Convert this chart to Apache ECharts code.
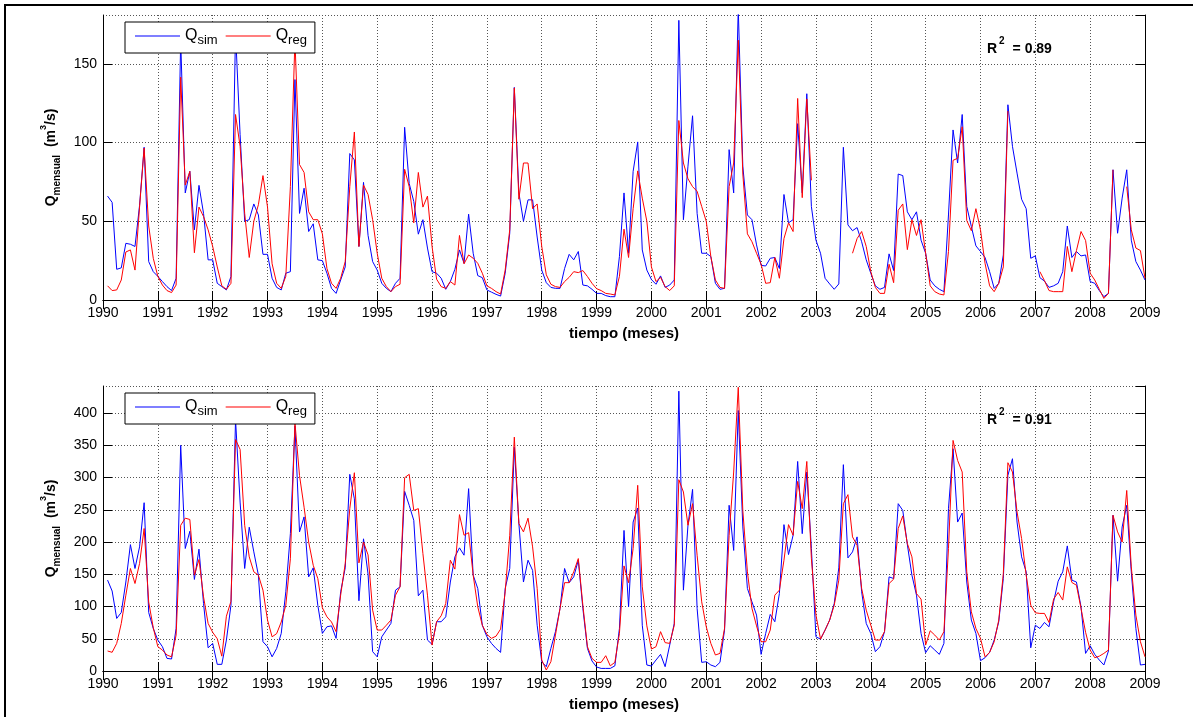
<!DOCTYPE html>
<html>
<head>
<meta charset="utf-8">
<script src="https://cdn.jsdelivr.net/npm/echarts@6/dist/echarts.min.js"></script>
<style>
  html, body { margin: 0; padding: 0; background: #fff; }
  #chart { width: 1193px; height: 717px; }
</style>
</head>
<body>
<div id="chart"></div>
<script>
// monthly series, Jan 1990 .. Dec 2008, one row per year
const startYear = 1990;
const endYear = 2009;

const qSimTop = [
  66, 62, 19.5, 20.4, 36, 35.4, 34, 60, 97, 24.4, 18, 15,
  11.7, 8.5, 6, 13.8, 165, 68, 81.7, 44.6, 72.8, 55, 25.5, 25.5,
  10.6, 8.5, 6.4, 14.9, 170, 105, 50, 51, 61, 54, 29, 29,
  13.8, 8, 6.4, 17, 18, 140, 55, 71, 43.5, 48.4, 25.5, 25,
  17, 7.4, 4.2, 12.7, 21, 93, 89, 34, 74.7, 41, 24.4, 19,
  10.6, 7.4, 5.3, 10.6, 13.8, 109.7, 74, 62.6, 41.8, 51, 33, 18,
  17, 13.8, 6.8, 11.7, 19.5, 31.8, 23.3, 54.5, 29.7, 15.5, 14.2, 6.4,
  5, 3.6, 2.5, 17, 42.4, 135, 68, 50, 63.6, 63.6, 40, 19,
  11, 8, 7.4, 7.4, 20, 29, 25.5, 30.8, 9.5, 9, 6.8, 4.2,
  4.2, 2.8, 2.1, 2.1, 27.6, 68, 29.7, 81.7, 100.4, 31.8, 19, 13,
  10, 15.3, 8, 9.5, 12.7, 177.6, 51, 85, 117, 55, 29.7, 29.7,
  27.6, 10.6, 6.8, 7.4, 95.5, 68, 185, 85, 54, 51, 35, 22,
  21.6, 26.5, 27, 20, 67, 49, 51, 112, 68, 131, 59.4, 38,
  29.7, 13.8, 10.2, 6.8, 10.2, 97, 47.7, 44, 46, 37, 25.5, 17,
  9, 6.8, 8, 29.3, 18.7, 80, 79, 56, 51, 56, 38, 29.7,
  12.7, 9, 6.8, 5.3, 54, 108, 87, 117.8, 59.4, 46.7, 34.4, 30.8,
  27, 18, 7.4, 10.6, 28.6, 124, 97.6, 80.6, 64, 58, 26.5, 28,
  14.2, 12, 8, 9, 10.6, 18, 47, 27, 30.8, 28, 28.6, 11.7,
  10.6, 6, 2.1, 4.2, 82.7, 42.4, 64.7, 82.7, 38, 24.4, 19, 12.7
];

const qRegTop = [
  9, 6, 6.4, 12.7, 30.5, 31.8, 19, 59, 96.5, 47, 26.5, 15,
  9.5, 6, 4.7, 9.5, 141.5, 73, 81.7, 30, 59, 53, 44.6, 34,
  21, 9, 6.8, 10.6, 117.8, 97.6, 55, 27, 50, 60.5, 79, 59,
  23, 10.6, 7.4, 15, 72, 165, 86, 81, 56, 51, 51, 42,
  20, 10.6, 7.4, 13.8, 24.4, 72, 106.7, 34, 73, 67, 51, 29.7,
  13.8, 8.5, 5.3, 8.5, 10, 83, 72, 49, 81, 59, 66, 34,
  13.2, 8.5, 7.4, 11.7, 9.5, 41, 23, 28.6, 26.5, 23.3, 17, 9,
  7.4, 5.3, 3.8, 19, 44.6, 134.7, 64, 87, 87, 58, 61, 34,
  16, 10, 8.5, 8, 11.7, 14.4, 18, 17.4, 18.7, 14.9, 10.6, 7.2,
  6, 4.2, 3.8, 3.2, 15, 45, 27, 58, 82, 64.7, 50, 21,
  11.7, 14.4, 8.5, 6, 9, 114, 87, 77, 72, 69, 59.4, 50,
  27.6, 12.7, 8, 7.4, 72, 87, 165, 80, 42, 37, 29.7, 22.7,
  10.6, 11, 27, 13.8, 39, 49, 43.5, 128, 65, 127.7, 76, null,
  null, null, null, null, null, null, null, 29.7, 39, 43.5, 34, 18,
  8, 4.2, 4.2, 22.7, 11, 57, 61, 32, 51, 41, 51, 29.7,
  9, 5.3, 3.8, 3.2, 30.8, 88.7, 90, 110, 50.5, 44, 58, 44.6,
  23.3, 9, 5.3, 10.6, 21, 120, null, null, null, null, null, null,
  18, 12.3, 6, 5.3, 5.3, 5.3, 34, 18, 31.4, 43.5, 37.8, 17,
  12.7, 6.8, 1, 4.2, 82.7, null, null, 72, 44.6, 33, 31.4, 13.8
];

const qSimBottom = [
  141, 124, 81.5, 90.8, 138, 196, 159, 192.5, 261, 90.8, 66, 48,
  37.7, 19.6, 18.6, 66, 350, 190, 216.7, 142, 189, 104.7, 36, 42.8,
  10.3, 10.3, 48, 102, 390, 262, 159, 223, 184.7, 148.6, 45.4, 37.7,
  22, 35, 58.3, 122.8, 213, 380, 215.7, 239, 146, 160, 102, 58.3,
  68.6, 70, 50.6, 122.8, 160, 305, 267, 108.9, 205, 150, 30, 22,
  53, 63.5, 73.8, 125.4, 130.5, 278.6, 257, 233.7, 116.6, 125.4, 48, 41.3,
  76.4, 76.4, 84, 138, 177, 191, 179.6, 282.8, 148.6, 128, 71, 53,
  42.8, 35, 28.9, 128, 159, 347, 228.6, 138, 171.8, 156, 71, 14.4,
  6.7, 35, 61, 97, 159, 137, 146, 171.8, 97, 35, 15.5, 6.2,
  4, 4, 4, 8, 66, 218, 99.6, 231, 252.8, 71, 9.3, 7.7,
  17, 25.8, 6.7, 40.2, 73.8, 434, 125.4, 226, 281.7, 97, 13.4, 14.4,
  9.3, 6.7, 13.4, 63.5, 257, 187, 404, 223.4, 128, 107.3, 86.7, 25.8,
  58.3, 87.7, 76.4, 120.2, 227, 180.6, 210.5, 325, 213, 308.6, 190, 53,
  49.5, 63.5, 79, 104.7, 160, 320, 175.4, 184.7, 208, 122.8, 73.8, 58.3,
  30, 37.7, 61, 146, 143.4, 259.5, 249, 196, 148.6, 117.6, 58.3, 28.4,
  39.2, 32.5, 25.8, 42.8, 251.8, 344.7, 231, 245, 138, 79, 58.3, 16,
  20.6, 28.9, 48, 76.4, 143.4, 303.4, 329.2, 231, 177, 153.8, 36, 71,
  66, 75.3, 68.6, 107.3, 139.3, 153.8, 194, 140.9, 138, 99.6, 27.3, 39.2,
  25.8, 17, 9.3, 31, 241.5, 139.3, 223.4, 257, 153.8, 66, 9.3, 10.3
];

const qRegBottom = [
  31, 29, 42.8, 73.8, 117.6, 159, 135.7, 166.7, 221, 107, 67, 37.7,
  32.5, 24.8, 22, 55.7, 226, 237, 235, 148.6, 172.9, 115, 73.8, 60,
  50, 23, 85, 108, 359, 343.6, 226, 177, 153.8, 148.6, 125.4, 79,
  53, 58, 76, 102, 174, 385, 303, 254, 200, 164, 143.4, 98,
  84, 76, 61, 117.6, 166.7, 251.8, 307.5, 167.7, 200, 180, 94.4, 63.5,
  63.5, 71, 79, 117.6, 130.5, 299.8, 305, 249, 251.8, 182, 117.6, 40.2,
  76.4, 85.7, 104.7, 171.8, 158, 242.5, 210.5, 214.6, 148.6, 99.6, 71, 56.8,
  50.6, 54, 65, 122.8, 210.5, 362.7, 228.6, 215.7, 237, 192.5, 128, 17,
  1.5, 14.4, 55.7, 97, 137, 137, 153.8, 174.4, 102, 37.7, 19.6, 13.4,
  13.4, 23.7, 8, 13.4, 58.3, 163, 137, 190, 288, 130.5, 70, 34,
  37.7, 61, 44, 42.8, 71, 296.7, 277.6, 226, 259.5, 179.6, 107.3, 68.6,
  42.8, 24.8, 27.3, 66, 210.5, 308.6, 440, 249, 153.8, 97, 70, 45.4,
  45.4, 63.5, 117.6, 125.4, 171.8, 227, 210.5, 294, 251.8, 325, 174.4, 86.7,
  49.5, 63.5, 79, 102, 140.9, 259.5, 273.5, 208, 195, 128, 94.4, 71,
  48, 48, 61, 135.7, 142.4, 221, 240.5, 197.6, 177, 120, 111.5, 40.2,
  62.4, 55.7, 48, 61, 190, 357.6, 326.6, 308.6, 153.8, 91.8, 66, 50.6,
  22, 28.9, 45.4, 79, 151.2, 323, 308.6, 246.6, 205.4, 148.6, 102, 90.3,
  89.3, 89.3, 75.3, 111.5, 121.8, 110, 161.5, 137.3, 133, 97, 60, 32.5,
  20.6, 23, 27.3, 32.5, 241.5, 215.7, 200, 280, 161.5, 86.7, 45.4, 22
];

const r2Labels = ['0.89', '0.91'];
const yMax = [181, 442];

const FONT = '"Liberation Sans", Arial, Helvetica, sans-serif';

// each value sits at the end of its month
function toPoints(values) {
  return values.map((v, i) => [startYear + (i + 1) / 12, v]);
}

const panels = [
  { top: 15, legendTop: 22, r2Top: 36, sim: qSimTop, reg: qRegTop },
  { top: 386, legendTop: 393, r2Top: 407, sim: qSimBottom, reg: qRegBottom },
];

const tickStyle = { inside: true, length: 9, lineStyle: { color: '#000', width: 1 } };
const gridLine = { show: true, lineStyle: { color: '#555', type: [1, 2], width: 1 } };
const nameRich = {
  q: { fontFamily: FONT, fontWeight: 'bold', fontSize: 14, lineHeight: 24, verticalAlign: 'middle' },
  sub: { fontFamily: FONT, fontWeight: 'bold', fontSize: 10, lineHeight: 24, verticalAlign: 'bottom' },
  sup: { fontFamily: FONT, fontWeight: 'bold', fontSize: 9, lineHeight: 24, verticalAlign: 'top' },
};

const grid = [];
const xAxis = [];
const yAxis = [];
const series = [];
const legend = [];
const title = [];

panels.forEach((p, k) => {
  grid.push({ left: 103, right: 48, top: p.top, height: 285 });

  xAxis.push({
    type: 'value', gridIndex: k, min: startYear, max: endYear, interval: 1,
    axisLine: { lineStyle: { color: '#000', width: 1 } },
    axisTick: tickStyle,
    axisLabel: { color: '#000', fontSize: 14, fontFamily: FONT, margin: 6, formatter: (v) => String(v) },
    splitLine: gridLine,
    name: 'tiempo (meses)', nameLocation: 'middle', nameGap: 26,
    nameTextStyle: { color: '#000', fontFamily: FONT, fontWeight: 'bold', fontSize: 15 },
  });
  xAxis.push({
    type: 'value', gridIndex: k, position: 'top', min: startYear, max: endYear, interval: 1,
    axisLine: { lineStyle: { color: '#000', width: 1 } },
    axisTick: tickStyle, axisLabel: { show: false }, splitLine: { show: false },
  });

  yAxis.push({
    type: 'value', gridIndex: k, min: 0, max: yMax[k], interval: 50,
    axisLine: { show: true, lineStyle: { color: '#000', width: 1 } },
    axisTick: tickStyle,
    axisLabel: { color: '#000', fontSize: 14, fontFamily: FONT, margin: 6, showMaxLabel: false },
    splitLine: gridLine,
    name: '{q|Q}{sub|mensual}{q|  (m}{sup|3}{q|/s)}', nameLocation: 'middle', nameRotate: 90, nameGap: 39,
    nameTextStyle: { color: '#000', rich: nameRich },
  });
  yAxis.push({
    type: 'value', gridIndex: k, position: 'right', min: 0, max: yMax[k], interval: 50,
    axisLine: { show: true, lineStyle: { color: '#000', width: 1 } },
    axisTick: tickStyle, axisLabel: { show: false }, splitLine: { show: false },
  });

  series.push({
    name: 'Qsim', type: 'line', xAxisIndex: k * 2, yAxisIndex: k * 2,
    data: toPoints(p.sim), symbol: 'none', connectNulls: false,
    lineStyle: { color: '#0000ff', width: 1 }, itemStyle: { color: '#0000ff' },
  });
  series.push({
    name: 'Qreg', type: 'line', xAxisIndex: k * 2, yAxisIndex: k * 2,
    data: toPoints(p.reg), symbol: 'none', connectNulls: false,
    lineStyle: { color: '#ff0000', width: 1 }, itemStyle: { color: '#ff0000' },
  });

  legend.push({
    data: ['Qsim', 'Qreg'], left: 125, top: p.legendTop, orient: 'horizontal',
    icon: 'rect', itemWidth: 45, itemHeight: 1, itemGap: 8, padding: [6, 8, 6, 10],
    borderColor: '#000', borderWidth: 1, backgroundColor: '#fff', selectedMode: false,
    formatter: (name) => (name === 'Qsim' ? '{q|Q}{s|sim}' : '{q|Q}{s|reg}'),
    textStyle: {
      rich: {
        q: { fontFamily: FONT, fontSize: 16, color: '#000', lineHeight: 22, verticalAlign: 'middle' },
        s: { fontFamily: FONT, fontSize: 13, color: '#000', lineHeight: 22, verticalAlign: 'bottom' },
      },
    },
  });

  title.push({
    text: '{r|R}{s|2}{r| = ' + r2Labels[k] + '}', left: 987, top: p.r2Top, padding: 0,
    textStyle: {
      rich: {
        r: { fontFamily: FONT, fontWeight: 'bold', fontSize: 14, color: '#000', lineHeight: 20, verticalAlign: 'bottom' },
        s: { fontFamily: FONT, fontWeight: 'bold', fontSize: 10, color: '#000', lineHeight: 20, verticalAlign: 'top', padding: [0, 4, 0, 2] },
      },
    },
  });
});

const chart = echarts.init(document.getElementById('chart'));
chart.setOption({
  animation: false,
  backgroundColor: '#fff',
  grid, xAxis, yAxis, series, legend, title,
  graphic: [{
    type: 'rect', silent: true, z: 100,
    shape: { x: 5, y: 5, width: 1200, height: 720 },
    style: { fill: 'none', stroke: '#000', lineWidth: 2 },
  }],
});
</script>
</body>
</html>
